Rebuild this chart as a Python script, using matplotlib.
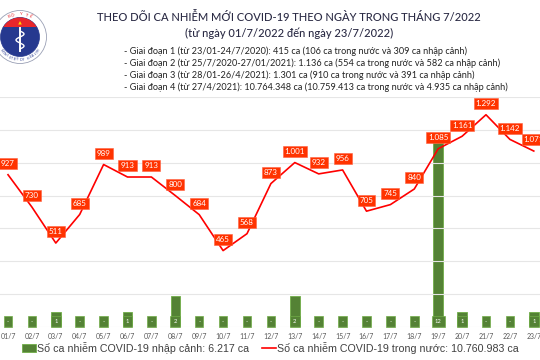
import numpy as np
import matplotlib
matplotlib.use("Agg")
import matplotlib.pyplot as plt
from matplotlib.patches import Circle, Rectangle, Polygon

# data
days = ["01/7", "02/7", "03/7", "04/7", "05/7", "06/7", "07/7", "08/7", "09/7", "10/7",
        "11/7", "12/7", "13/7", "14/7", "15/7", "16/7", "17/7", "18/7", "19/7", "20/7",
        "21/7", "22/7", "23/7"]
domestic = [927, 730, 511, 685, 989, 913, 913, 800, 684, 465, 568, 873, 1001, 932, 956,
            705, 745, 840, 1085, 1161, 1292, 1142, 1071]
imported = [0, 0, 1, 0, 0, 1, 0, 2, 0, 0, 0, 0, 2, 0, 0, 0, 0, 0, 12, 1, 0, 0, 1]

title = "THEO DÕI CA NHIỄM MỚI COVID-19 THEO NGÀY TRONG THÁNG 7/2022"
subtitle = "(từ ngày 01/7/2022 đến ngày 23/7/2022)"
notes = [
    "- Giai đoạn 1 (từ 23/01-24/7/2020): 415 ca (106 ca trong nước và 309 ca nhập cảnh)",
    "- Giai đoạn 2 (từ 25/7/2020-27/01/2021): 1.136 ca (554 ca trong nước và 582 ca nhập cảnh)",
    "- Giai đoạn 3 (từ 28/01-26/4/2021): 1.301 ca (910 ca trong nước và 391 ca nhập cảnh)",
    "- Giai đoạn 4 (từ 27/4/2021): 10.764.348 ca (10.759.413 ca trong nước và 4.935 ca nhập cảnh)",
]
legend_bar = "Số ca nhiễm COVID-19 nhập cảnh: 6.217 ca"
legend_line = "Số ca nhiễm COVID-19 trong nước: 10.760.983 ca"


def fmt(v):
    return f"{v:,}".replace(",", ".")


plt.rcParams['font.family'] = ['Lato', 'DejaVu Sans']

fig = plt.figure(figsize=(5.4, 3.6), dpi=100)
x = np.arange(1, len(days) + 1)

# bars (imported cases)
ax = fig.add_axes([0, 33 / 360, 1, 230 / 360])
ax.set_xlim(0.665, 23.26)
ax.set_ylim(0, 15)
ax.bar(x, imported, width=0.4, color="#548235", edgecolor="#70AD47", linewidth=0.6, zorder=2)
for xi, v in zip(x, imported):
    ax.text(xi, 0.35, str(v) if v else "-", ha="center", va="center", fontsize=4.2,
            color="white", zorder=3,
            bbox=dict(boxstyle="square,pad=0.55", fc="#548235", ec="#70AD47", lw=0.5))
ax.set_xticks(x)
ax.set_xticklabels(days, fontsize=5, color="#595959")
ax.tick_params(axis="x", length=0, pad=4)
ax.set_yticks([])
for s in ax.spines.values():
    s.set_visible(False)

# line (domestic cases)
ax2 = ax.twinx()
ax2.set_ylim(0, 1400)
ax2.set_yticks([])
for g in range(0, 1401, 200):
    ax2.axhline(g, color="#E6E6E6", lw=0.8, zorder=0)
ax2.plot(x, domestic, color="#FF0000", lw=1.2, zorder=3)
for xi, v in zip(x, domestic):
    ax2.annotate(fmt(v), (xi, v), xytext=(0, 8), textcoords="offset points",
                 ha="center", va="center", fontsize=5.8, color="white", zorder=4,
                 bbox=dict(boxstyle="square,pad=0.25", fc="#FF3300", ec="#FF6040", lw=0.4))
for s in ax2.spines.values():
    s.set_visible(False)

# header
fig.text(0.535, 1 - 17 / 360, title, ha="center", va="center", fontsize=8,
         color="#2b2b45", fontweight="medium")
fig.text(0.535, 1 - 33 / 360, subtitle, ha="center", va="center", fontsize=8,
         color="#2b2b45", fontweight="medium")
for i, line in enumerate(notes):
    fig.text(124 / 540, 1 - (51 + 12 * i) / 360, line, ha="left", va="center",
             fontsize=6.6, color="#222222")

# overlay in pixel coordinates for the logo and legend
lax = fig.add_axes([0, 0, 1, 1], zorder=5)
lax.set_xlim(0, 540)
lax.set_ylim(360, 0)
lax.axis("off")
cx, cy = 20, 37
lax.add_patch(Circle((cx, cy), 26.5, fc="white", ec="#9aa0b5", lw=0.6))
inner = Circle((cx, cy), 19.5, fc="#26398f", ec="#26398f", lw=0.5)
lax.add_patch(inner)
red = Rectangle((cx - 25, cy - 25), 50, 15, fc="#e8262b", ec="none")
lax.add_patch(red)
red.set_clip_path(inner)
lax.plot([cx, cx], [cy - 9, cy + 14], color="white", lw=1.4)
ts = np.linspace(0, 1, 40)
lax.plot(cx + 4 * np.sin(ts * 3 * np.pi), cy - 6 + 18 * ts, color="white", lw=1.0)
lax.add_patch(Polygon([[cx - 1.8, cy - 12.5], [cx + 1.8, cy - 12.5], [cx, cy - 16]],
                      fc="#ffd400", ec="none"))
for k, ch in enumerate("BỘ Y TẾ"):
    a = np.deg2rad(116 - k * 8.7)
    lax.text(cx + 23 * np.cos(a), cy - 23 * np.sin(a), ch, fontsize=3.2,
             color="#e8262b", ha="center", va="center", rotation=np.rad2deg(a) - 90)
for k, ch in enumerate("MINISTRY OF HEALTH"):
    a = np.deg2rad(-145 + k * 6.5)
    lax.text(cx + 23 * np.cos(a), cy - 23 * np.sin(a), ch, fontsize=2.4,
             color="#26398f", ha="center", va="center", rotation=np.rad2deg(a) + 90)

# legend
leg_font = {"family": ["Liberation Sans", "DejaVu Sans"], "size": 7.7}
lax.add_patch(Rectangle((22, 344), 14, 8, fc="#548235", ec="#70AD47", lw=0.6))
lax.text(37, 348, legend_bar, ha="left", va="center", color="#404040", fontdict=leg_font)
lax.plot([262, 276], [348, 348], color="#FF0000", lw=1.2)
lax.text(277, 348, legend_line, ha="left", va="center", color="#404040", fontdict=leg_font)

fig.savefig("out.png", dpi=100)
